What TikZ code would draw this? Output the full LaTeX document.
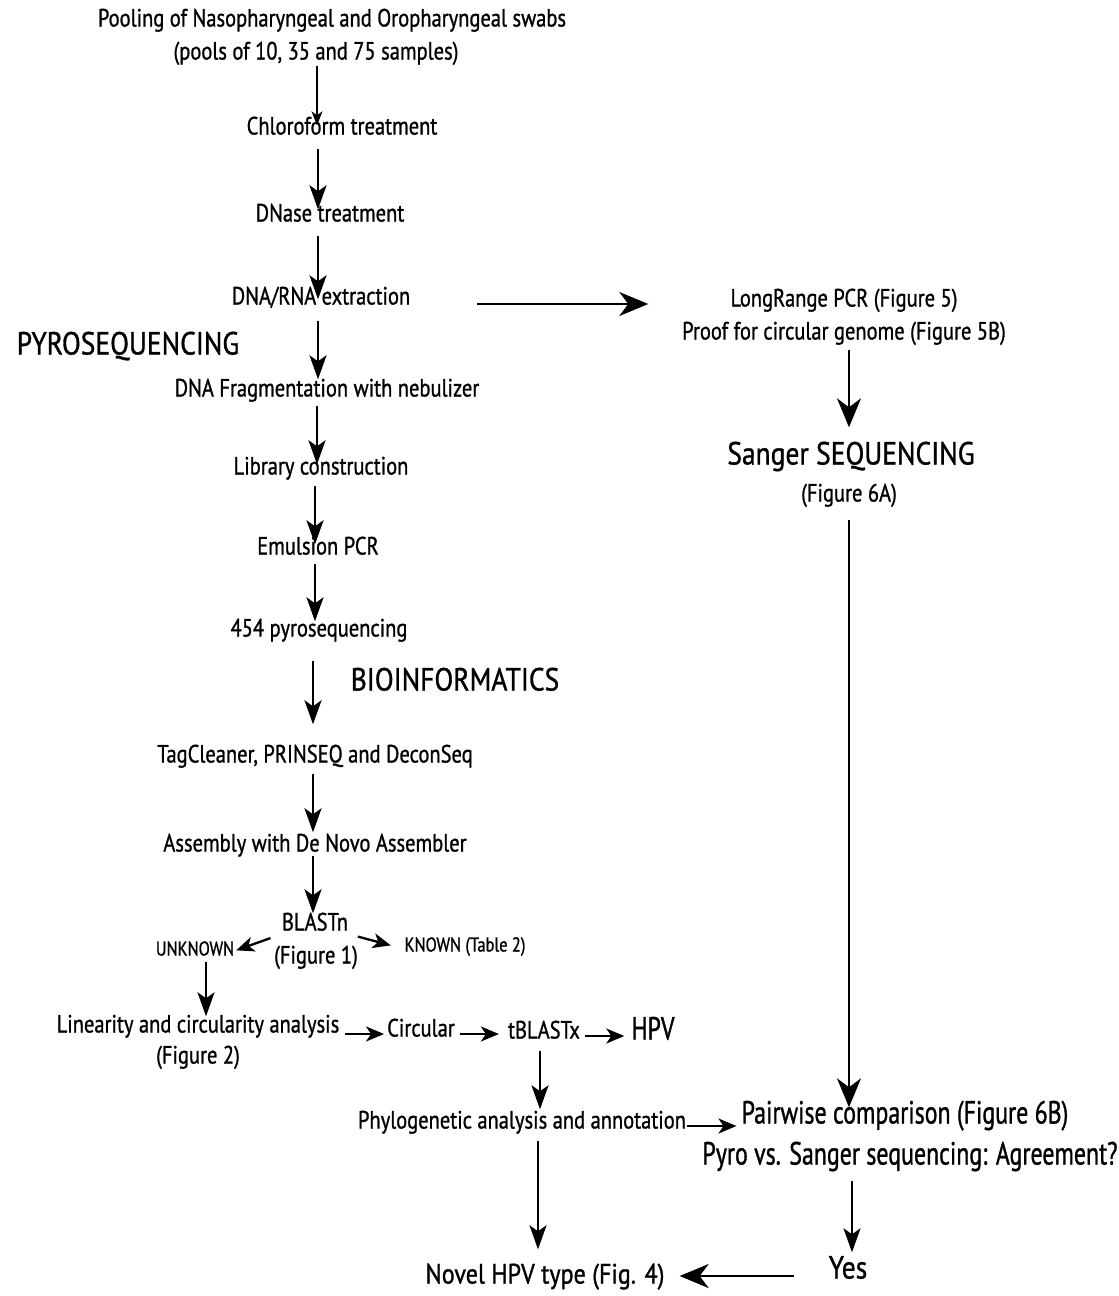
\documentclass[tikz,border=0pt]{standalone}
\usepackage{fontspec}
\setmainfont{PT Sans}[FakeStretch=0.82,FakeBold=1.0]
\newfontfamily\capsf{PT Sans}[FakeStretch=0.86,FakeBold=1.0]
\newfontfamily\narrf{PT Sans}[FakeStretch=0.746,FakeBold=1.0]
\usetikzlibrary{arrows.meta}
\begin{document}
\begin{tikzpicture}[x=1pt,y=-1pt,
  every node/.style={inner sep=0pt, yshift=-4pt, text height=0.7em, text depth=0.2em},
  norm/.style={font=\fontsize{25}{30}\selectfont},
  bigcaps/.style={font=\capsf\fontsize{32}{38}\selectfont},
  biglow/.style={font=\narrf\fontsize{32}{38}\selectfont},
  novelf/.style={font=\capsf\fontsize{28}{34}\selectfont},
  small/.style={font=\fontsize{20}{24}\selectfont},
  thinarr/.style={line width=1.3pt, -{Stealth[length=14pt,width=11pt,inset=4pt]}},
  arr/.style={line width=2.4pt, -{Stealth[length=24pt,width=17pt,inset=6pt]}},
  bigarr/.style={line width=2.7pt, -{Stealth[length=29pt,width=24pt,inset=9pt]}},
  harr/.style={line width=2.3pt, -{Stealth[length=18pt,width=15pt,inset=5pt]}},
]
\fill[white] (0,0) rectangle (1119,1296);
\useasboundingbox (0,0) rectangle (1119,1296);

% columns and rows for connectors
\coordinate (c317) at (317,0);
\coordinate (c318) at (318,0);
\coordinate (c315) at (315,0);
\coordinate (c313) at (313,0);
\coordinate (c206) at (206,0);
\coordinate (c540) at (540,0);
\coordinate (c538) at (538,0);
\coordinate (c849) at (849,0);
\coordinate (c852) at (852,0);
\coordinate (r300) at (0,300);
\coordinate (r1030) at (0,1030);
\coordinate (r1032) at (0,1032);
\coordinate (r1122) at (0,1122);
\coordinate (r1272) at (0,1272);

% nodes
\node[norm] (pool1) at (332,20) {Pooling of Nasopharyngeal and Oropharyngeal swabs};
\node[norm] (pool2) at (316,53) {(pools of 10, 35 and 75 samples)};
\node[norm] (chloro) at (342,128) {Chloroform treatment};
\node[norm] (dnase) at (330,215) {DNase treatment};
\node[norm] (dnarna) at (321,298) {DNA/RNA extraction};
\node[bigcaps] (pyro) at (128,348) {PYROSEQUENCING};
\node[norm] (frag) at (327,390) {DNA Fragmentation with nebulizer};
\node[norm] (lib) at (321,468) {Library construction};
\node[norm] (emul) at (318,548) {Emulsion PCR};
\node[norm] (p454) at (319,630) {454 pyrosequencing};
\node[bigcaps] (bioinf) at (455,684) {BIOINFORMATICS};
\node[norm] (tag) at (315,756) {TagCleaner, PRINSEQ and DeconSeq};
\node[norm] (asm) at (315,845) {Assembly with De Novo Assembler};
\node[norm] (blastn) at (315,924) {BLASTn};
\node[norm] (fig1) at (316,957) {(Figure 1)};
\node[small] (unknown) at (195,949) {UNKNOWN};
\node[small] (known) at (465,945) {KNOWN (Table 2)};
\node[norm] (lin) at (198,1026) {Linearity and circularity analysis};
\node[norm] (fig2) at (198,1057) {(Figure 2)};
\node[norm] (circ) at (421,1030) {Circular};
\node[norm] (tblastx) at (544,1032) {tBLASTx};
\node[biglow] (hpv) at (653,1033) {HPV};
\node[norm] (phylo) at (522,1122) {Phylogenetic analysis and annotation};
\node[biglow] (pair) at (905,1117) {Pairwise comparison (Figure 6B)};
\node[biglow] (agree) at (910,1158) {Pyro vs. Sanger sequencing: Agreement?};
\node[bigcaps] (yes) at (848,1272) {Yes};
\node[novelf] (novel) at (545,1277) {Novel HPV type (Fig. 4)};
\node[norm] (longr) at (844,300) {LongRange PCR (Figure 5)};
\node[norm] (proof) at (844,333) {Proof for circular genome (Figure 5B)};
\node[bigcaps] (sanger) at (851,458) {Sanger SEQUENCING};
\node[norm] (fig6a) at (849,495) {(Figure 6A)};

% connectors
\draw[thinarr, shorten <=4pt, shorten >=2pt] (pool2.south -| c317) -- (chloro.north -| c317);
\draw[arr, shorten <=12pt, shorten >=5pt] (chloro.south -| c318) -- (dnase.north -| c318);
\draw[arr, shorten <=12pt, shorten >=-2pt] (dnase.south -| c318) -- (dnarna.north -| c318);
\draw[bigarr, shorten <=67pt, shorten >=82pt] (dnarna.east |- r300) -- (longr.west |- r300);
\draw[arr, shorten <=14pt, shorten >=10pt] (dnarna.south -| c318) -- (frag.north -| c318);
\draw[arr, shorten <=7pt, shorten >=3pt] (frag.south -| c317) -- (lib.north -| c317);
\draw[arr, shorten <=9pt, shorten >=3pt] (lib.south -| c315) -- (emul.north -| c315);
\draw[arr, shorten <=7pt, shorten >=8pt] (emul.south -| c315) -- (p454.north -| c315);
\draw[arr, shorten <=22pt, shorten >=31pt] (p454.south -| c313) -- (tag.north -| c313);
\draw[arr, shorten <=9pt, shorten >=12pt] (tag.south -| c313) -- (asm.north -| c313);
\draw[arr, shorten <=2pt, shorten >=10pt] (asm.south -| c313) -- (blastn.north -| c313);
\draw[harr, shorten <=12pt, shorten >=2pt] ([yshift=-6pt]blastn.west) -- ([yshift=2pt]unknown.east);
\draw[harr, shorten <=10pt, shorten >=14pt] ([yshift=-6pt]blastn.east) -- (known.west);
\draw[arr, shorten <=4pt, shorten >=9pt] (unknown.south -| c206) -- (lin.north -| c206);
\draw[harr, shorten <=5pt, shorten >=3pt] (lin.east |- r1030) -- (circ.west |- r1030);
\draw[harr, shorten <=5pt, shorten >=9pt] (circ.east |- r1030) -- (tblastx.west |- r1030);
\draw[harr, shorten <=5pt, shorten >=7pt] (tblastx.east |- r1032) -- (hpv.west |- r1032);
\draw[arr, shorten <=10pt, shorten >=12pt] (tblastx.south -| c540) -- (phylo.north -| c540);
\draw[harr, shorten <=1pt, shorten >=5pt] (phylo.east |- r1122) -- (pair.west |- r1122);
\draw[arr, shorten <=10pt, shorten >=27pt] (phylo.south -| c538) -- (novel.north -| c538);
\draw[bigarr, shorten <=8pt, shorten >=30pt] (proof.south -| c849) -- (sanger.north -| c849);
\draw[bigarr, shorten <=16pt, shorten >=9pt] (fig6a.south -| c849) -- (pair.north -| c849);
\draw[arr, shorten <=14pt, shorten >=19pt] (agree.south -| c852) -- (yes.north -| c852);
\draw[bigarr, shorten <=35pt, shorten >=15pt] (yes.west |- r1272) -- (novel.east |- r1272);
\end{tikzpicture}
\end{document}
